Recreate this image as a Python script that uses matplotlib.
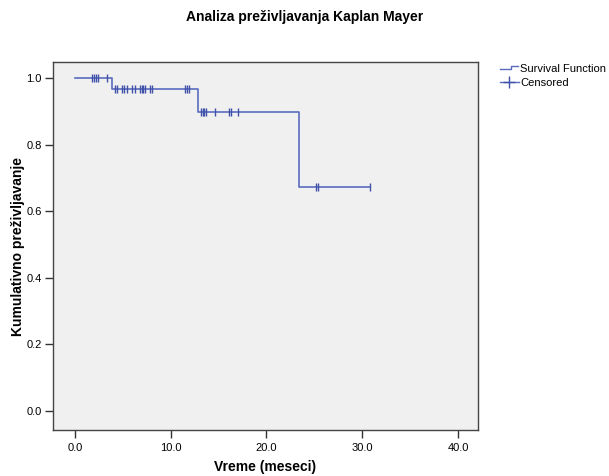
import matplotlib
matplotlib.use("Agg")
import matplotlib.pyplot as plt
from matplotlib.lines import Line2D
from matplotlib.legend_handler import HandlerBase
import numpy as np

plt.rcParams['font.family'] = ['Liberation Sans', 'DejaVu Sans']

event_times = [3.9, 12.8, 23.4]
survival = [1.0, 0.966, 0.897, 0.672]
censored_times = [1.8, 2.0, 2.2, 2.4, 3.3,
                  4.2, 4.4, 4.9, 5.1, 5.4, 6.0, 6.3, 6.8, 7.0, 7.1, 7.3, 7.8, 8.0,
                  11.5, 11.7, 11.9,
                  13.2, 13.4, 13.5, 13.7, 14.6, 16.1, 16.3, 17.0,
                  25.2, 25.4, 30.8]
end_time = 30.8

title = "Analiza preživljavanja Kaplan Mayer"
xlabel = "Vreme (meseci)"
ylabel = "Kumulativno preživljavanje"
xticks = [0, 10, 20, 30, 40]
yticks = [0.0, 0.2, 0.4, 0.6, 0.8, 1.0]

line_col = '#5a6bbf'
mark_col = '#3f51a8'

fig = plt.figure(figsize=(6.09, 4.76), dpi=100)
ax = fig.add_axes([0.087, 0.0966, 0.698, 0.773])
ax.set_facecolor('#f0f0f0')

# step function
xs = [0.0] + event_times + [end_time]
ys = survival + [survival[-1]]
ax.step(xs, ys, where='post', color=line_col, lw=1.2, zorder=3)

def surv_at(t):
    s = survival[0]
    for et, sv in zip(event_times, survival[1:]):
        if t >= et:
            s = sv
    return s

cy = [surv_at(t) for t in censored_times]
ax.plot(censored_times, cy, ls='none', marker='|', ms=6, mew=1.0, color=mark_col, zorder=4)

ax.set_xlim(-2.3, 42.1)
ax.set_ylim(-0.057, 1.048)
ax.set_xticks(xticks)
ax.set_xticklabels([f"{v:.1f}" for v in xticks], fontsize=8)
ax.set_yticks(yticks)
ax.set_yticklabels([f"{v:.1f}" for v in yticks], fontsize=8)
ax.tick_params(axis='x', direction='out', length=6, width=1, color='#333333', pad=3)
ax.tick_params(axis='y', direction='out', length=6, width=1, color='#333333', pad=2)
for s in ax.spines.values():
    s.set_color('#444444')
    s.set_linewidth(1.0)

fig.text(265 / 609, 1 - 467 / 476, xlabel, fontsize=10, fontweight='bold', ha='center', va='center')
fig.text(18 / 609, 1 - 246 / 476, ylabel, fontsize=10, fontweight='bold', ha='center', va='center',
         rotation=90)
fig.text(0.501, 0.965, title, fontsize=10, fontweight='bold', ha='center', va='center')


class StepHandler(HandlerBase):
    def create_artists(self, legend, orig_handle, xdescent, ydescent, width, height, fontsize, trans):
        x0 = -xdescent
        y0 = -ydescent
        xs_ = [x0, x0 + width * 0.6, x0 + width * 0.6, x0 + width * 0.95]
        ys_ = [y0 + height * 0.3, y0 + height * 0.3, y0 + height * 0.8, y0 + height * 0.8]
        l = Line2D(xs_, ys_, color=line_col, lw=1.0, transform=trans)
        return [l]


step_handle = Line2D([], [], color=line_col)
cens_handle = Line2D([], [], color=line_col, marker='+', ms=9, mew=1.0, mec=mark_col, lw=1.0)
leg = fig.legend([step_handle, cens_handle], ["Survival Function", "Censored"],
                 handler_map={step_handle: StepHandler()},
                 loc='upper left', bbox_to_anchor=(0.821, 0.866), frameon=False,
                 fontsize=8, handlelength=1.7, handletextpad=0.1, labelspacing=0.4,
                 borderaxespad=0, borderpad=0)

fig.savefig("out.png", dpi=100)
